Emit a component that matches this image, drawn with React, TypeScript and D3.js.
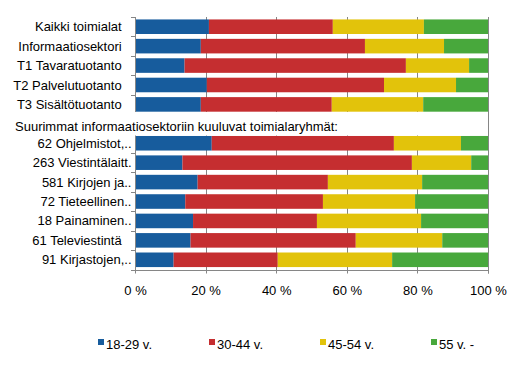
import React from "react";
import * as d3 from "d3";

const categories = [
  "Kaikki toimialat\u00a0\u00a0\u2009",
  "Informaatiosektori\u00a0\u00a0\u2009",
  "T1 Tavaratuotanto\u00a0\u00a0\u2009",
  "T2 Palvelutuotanto\u00a0\u00a0\u2009",
  "T3 Sisältötuotanto\u00a0\u00a0\u2009",
  "",
  "62 Ohjelmistot,..",
  "263 Viestintälaitt.",
  "581 Kirjojen ja..",
  "72 Tieteellinen..",
  "18 Painaminen..",
  "61 Televiestintä\u00a0\u00a0\u2009",
  "91 Kirjastojen,..",
];

const headerLabel = "Suurimmat informaatiosektoriin kuuluvat toimialaryhmät:";

const seriesNames = ["18-29 v.", "30-44 v.", "45-54 v.", "55 v. -"];
const age18to29 = [20.8, 18.5, 13.9, 20.2, 18.5, 0, 21.6, 13.3, 17.6, 14.1, 16.3, 15.6, 10.8];
const age30to44 = [35.1, 46.5, 62.7, 50.2, 37.1, 0, 51.6, 65.0, 36.9, 39.0, 35.1, 46.8, 29.5];
const age45to54 = [25.8, 22.4, 17.9, 20.4, 25.9, 0, 19.0, 16.8, 26.7, 26.1, 29.5, 24.5, 32.4];
const age55plus = [18.3, 12.6, 5.5, 9.2, 18.5, 0, 7.8, 4.9, 18.8, 20.8, 19.1, 13.1, 27.3];
const xTicks = [0, 20, 40, 60, 80, 100];
const colors = ["#175c9d", "#c52e30", "#e2c30b", "#48a83c"];

const FONT = "'Liberation Sans', Arial, sans-serif";

export default function App() {
  const width = 528;
  const height = 390;
  const x = d3.scaleLinear().domain([0, 100]).range([135.5, 488.5]);
  const y = d3
    .scaleBand<number>()
    .domain(d3.range(categories.length))
    .range([17, 269.5])
    .paddingInner(0.25)
    .paddingOuter(0.125);

  const table = categories.map((c, i) => ({
    i,
    label: c,
    a: age18to29[i],
    b: age30to44[i],
    c: age45to54[i],
    d: age55plus[i],
  }));
  const stack = d3.stack<any>().keys(["a", "b", "c", "d"]);
  const layers = stack(table.filter((r) => r.label !== ""));

  const top = y.range()[0];
  const bottom = y.range()[1];
  const step = y.step();
  const gridColor = "#868686";
  const px = (v: number) => Math.floor(x(v)) + 0.5;

  return (
    <div style={{ position: "absolute", left: 0, top: 0 }}>
      <svg width={width} height={height} style={{ display: "block", background: "#fff" }}>
        {/* gridlines */}
        {xTicks.map((t) => (
          <line key={"g" + t} x1={px(t)} x2={px(t)} y1={top} y2={bottom + 4} stroke={gridColor} strokeWidth={1} />
        ))}
        {/* y axis ticks */}
        {d3.range(categories.length + 1).map((k) => (
          <line
            key={"yt" + k}
            x1={131}
            x2={136}
            y1={Math.round(top + k * step) + 0.5}
            y2={Math.round(top + k * step) + 0.5}
            stroke={gridColor}
          />
        ))}
        {/* x axis line */}
        <line x1={131} x2={489} y1={Math.round(bottom) + 0.5} y2={Math.round(bottom) + 0.5} stroke={gridColor} />
        {/* bars */}
        {layers.map((layer, li) => (
          <g key={"l" + li} fill={colors[li]}>
            {layer.map((seg: any, j: number) => {
              const x0 = li === 0 ? x(seg[0]) + 0.5 : x(seg[0]);
              const x1 = x(seg[1]);
              return (
                <rect
                  key={j}
                  x={x0}
                  y={y(seg.data.i)}
                  width={Math.max(0, x1 - x0)}
                  height={y.bandwidth()}
                />
              );
            })}
          </g>
        ))}
        {/* right boundary line */}
        <line x1={px(100)} x2={px(100)} y1={top} y2={bottom + 4} stroke={gridColor} />
        {/* category labels */}
        {table.map((r) =>
          r.label ? (
            <text
              key={"c" + r.i}
              x={131.5}
              y={(y(r.i) as number) + y.bandwidth() / 2}
              dy="0.35em"
              textAnchor="end"
              fontFamily={FONT}
              fontSize={13}
              fill="#000"
              style={{ whiteSpace: "pre" }}
            >
              {r.label}
            </text>
          ) : null
        )}
        {/* header label box */}
        <rect x={10} y={112} width={460} height={23.5} fill="#fff" />
        <text x={15} y={131} fontFamily={FONT} fontSize={13} fill="#000">
          {headerLabel}
        </text>
        {/* x tick labels */}
        {xTicks.map((t) => (
          <text key={"xl" + t} x={x(t)} y={295} textAnchor="middle" fontFamily={FONT} fontSize={13} fill="#000">
            {t + " %"}
          </text>
        ))}
        {/* legend */}
        {seriesNames.map((s, i) => (
          <g key={"lg" + i} transform={`translate(${98 + i * 111},0)`}>
            <rect x={0} y={339} width={6} height={6} fill={colors[i]} />
            <text x={8} y={348.5} fontFamily={FONT} fontSize={13} fill="#000">
              {s}
            </text>
          </g>
        ))}
      </svg>
    </div>
  );
}
